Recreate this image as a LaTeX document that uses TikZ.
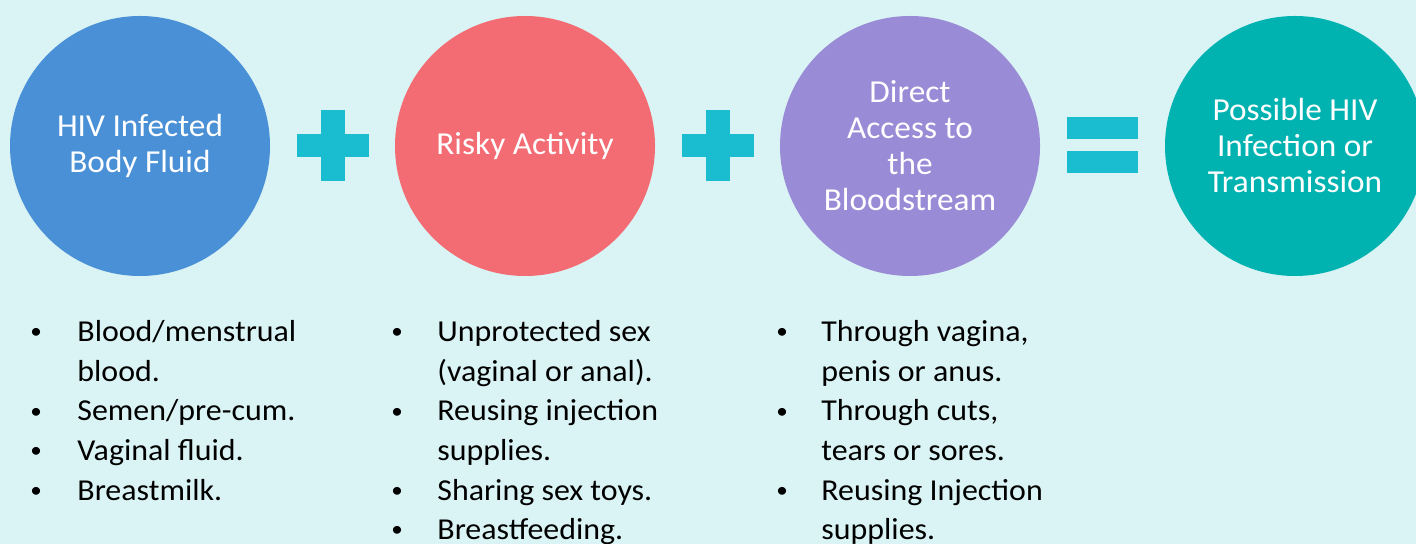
\documentclass[tikz,border=0pt]{standalone}
\usepackage{fontspec}
\setmainfont{Carlito}
\newfontfamily\discfont[FakeStretch=1.04]{Carlito}
\newfontfamily\listfont[FakeStretch=1.05]{Carlito}
\definecolor{bgc}{HTML}{DAF3F4}
\definecolor{cblue}{HTML}{4A90D6}
\definecolor{cred}{HTML}{F36C74}
\definecolor{cpurple}{HTML}{9A8BD6}
\definecolor{cteal}{HTML}{00B2B0}
\definecolor{csign}{HTML}{1ABCCF}
\begin{document}
\begin{tikzpicture}[x=0.5pt,y=-0.5pt,
  disc/.style={circle,minimum size=130pt,inner sep=0pt,text=white,align=center,
    font=\discfont\fontsize{16}{18}\selectfont},
  sign/.style={fill=csign,draw=none},
  bl/.style={anchor=base west,inner sep=0pt,font=\listfont\fontsize{15.2}{19.8}\selectfont,text=black},
  dot/.style={anchor=base west,inner sep=0pt,font=\listfont\fontsize{11}{12}\selectfont,text=black}]
\clip (0,0) rectangle (1416,544);
\fill[bgc] (0,0) rectangle (1416,544);
% circles
\node[disc,fill=cblue] (c1) at (140,146) {HIV Infected\\Body Fluid};
\node[disc,fill=cred] (c2) at (525,146) {Risky Activity};
\node[disc,fill=cpurple] (c3) at (910,146) {Direct\\Access to\\the\\Bloodstream};
\node[disc,fill=cteal] (c4) at (1295,146) {Possible HIV\\Infection or\\Transmission};
% plus signs
\fill[sign] (297,134) rectangle (369,157);
\fill[sign] (321,110) rectangle (345,181);
\fill[sign] (682,134) rectangle (754,157);
\fill[sign] (706,110) rectangle (730,181);
% equals
\fill[sign] (1067,117) rectangle (1138,139);
\fill[sign] (1067,151) rectangle (1138,173);
% column 1
\node[dot] (b11) at (30,339) {•};
\node[bl] (t11) at (77,342) {Blood/menstrual};
\node[bl] (t12) at (77,381.5) {blood.};
\node[dot] (b13) at (30,418) {•};
\node[bl] (t13) at (77,421) {Semen/pre-cum.};
\node[dot] (b14) at (30,457.5) {•};
\node[bl] (t14) at (77,460.5) {Vaginal fluid.};
\node[dot] (b15) at (30,497) {•};
\node[bl] (t15) at (77,500) {Breastmilk.};
% column 2
\node[dot] (b21) at (391,339) {•};
\node[bl] (t21) at (437,342) {Unprotected sex};
\node[bl] (t22) at (437,381.5) {(vaginal or anal).};
\node[dot] (b23) at (391,418) {•};
\node[bl] (t23) at (437,421) {Reusing injection};
\node[bl] (t24) at (437,460.5) {supplies.};
\node[dot] (b25) at (391,497) {•};
\node[bl] (t25) at (437,500) {Sharing sex toys.};
\node[dot] (b26) at (391,536.5) {•};
\node[bl] (t26) at (437,539.5) {Breastfeeding.};
% column 3
\node[dot] (b31) at (776,339) {•};
\node[bl] (t31) at (821,342) {Through vagina,};
\node[bl] (t32) at (821,381.5) {penis or anus.};
\node[dot] (b33) at (776,418) {•};
\node[bl] (t33) at (821,421) {Through cuts,};
\node[bl] (t34) at (821,460.5) {tears or sores.};
\node[dot] (b35) at (776,497) {•};
\node[bl] (t35) at (821,500) {Reusing Injection};
\node[bl] (t36) at (821,539.5) {supplies.};
\end{tikzpicture}
\end{document}
